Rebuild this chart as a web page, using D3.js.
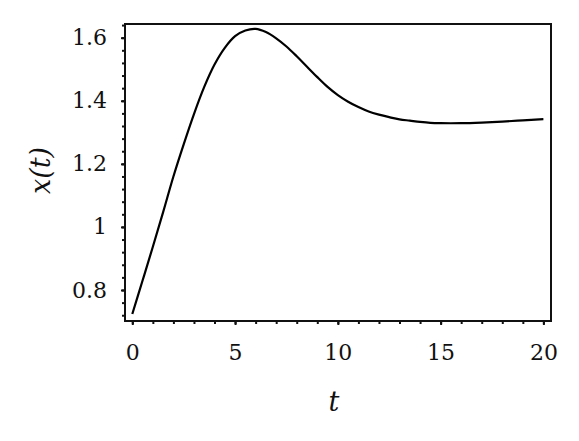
<!DOCTYPE html>
<html>
<head>
<meta charset="utf-8">
<script src="https://cdn.jsdelivr.net/npm/d3@7"></script>
<style>
  body { margin: 0; background: #fff; }
  text { font-family: "DejaVu Serif", "Liberation Serif", serif; fill: #111; }
</style>
</head>
<body>
<div id="chart"></div>
<script>
// data
var tVals = [0, 0.5, 1, 1.5, 2, 2.5, 3, 3.5, 4, 4.5, 5, 5.5, 6, 6.5, 7, 7.5, 8, 8.5, 9, 9.5,
  10, 10.5, 11, 11.5, 12, 12.5, 13, 13.5, 14, 14.5, 15, 16, 17, 18, 19, 20];
var xVals = [0.724, 0.83, 0.937, 1.047, 1.16, 1.262, 1.358, 1.444, 1.515, 1.568, 1.605, 1.623, 1.628, 1.618, 1.598, 1.572, 1.541, 1.508, 1.475, 1.444,
  1.418, 1.397, 1.38, 1.366, 1.356, 1.348, 1.341, 1.337, 1.333, 1.33, 1.329, 1.329, 1.331, 1.334, 1.338, 1.342];
var xTicks = [0, 5, 10, 15, 20];
var yTicks = [0.8, 1, 1.2, 1.4, 1.6];

var W = 579, H = 441;
var m = {t: 24, r: 28, b: 120, l: 125},
    w = W - m.l - m.r,
    h = H - m.t - m.b;

var svg = d3.select("#chart").append("svg")
  .attr("width", W)
  .attr("height", H);

var g = svg.append("g")
  .attr("transform", "translate(" + m.l + "," + m.t + ")");

var x = d3.scaleLinear().domain([-0.355, 20.37]).range([0, w]);
var y = d3.scaleLinear().domain([0.7017, 1.6434]).range([h, 0]);

// minor ticks
var xMinor = d3.range(0, 21, 1);
var yMinor = d3.range(0, 24).map(function(i){ return +(0.72 + i*0.04).toFixed(2); })
  .filter(function(v){ return v <= 1.64; });

g.append("g")
  .attr("transform", "translate(0," + h + ")")
  .call(d3.axisBottom(x).tickValues(xMinor).tickSize(3).tickFormat(""))
  .call(function(s){ s.select(".domain").remove(); })
  .selectAll("line").attr("stroke", "#111").attr("stroke-width", 2);

g.append("g")
  .call(d3.axisLeft(y).tickValues(yMinor).tickSize(3).tickFormat(""))
  .call(function(s){ s.select(".domain").remove(); })
  .selectAll("line").attr("stroke", "#111").attr("stroke-width", 2);

// major ticks
var xAxis = g.append("g")
  .attr("transform", "translate(0," + h + ")")
  .call(d3.axisBottom(x).tickValues(xTicks).tickSize(4).tickPadding(19).tickFormat(d3.format("d")));
xAxis.select(".domain").remove();
xAxis.selectAll("line").attr("stroke", "#111").attr("stroke-width", 2);
xAxis.selectAll("text").attr("font-size", "22px").attr("fill", "#111")
  .attr("font-family", "DejaVu Serif, Liberation Serif, serif");

var yAxis = g.append("g")
  .call(d3.axisLeft(y).tickValues(yTicks).tickSize(4).tickPadding(14).tickFormat(function(d){ return d3.format("")(d); }));
yAxis.select(".domain").remove();
yAxis.selectAll("line").attr("stroke", "#111").attr("stroke-width", 2);
yAxis.selectAll("text").attr("font-size", "22px").attr("fill", "#111")
  .attr("font-family", "DejaVu Serif, Liberation Serif, serif");

// frame
g.append("rect")
  .attr("x", 0).attr("y", 0)
  .attr("width", w).attr("height", h)
  .attr("fill", "none")
  .attr("stroke", "#111")
  .attr("stroke-width", 2);

// curve
var pts = tVals.map(function(t, i){ return {t: t, v: xVals[i]}; });
var line = d3.line()
  .x(function(d){ return x(d.t); })
  .y(function(d){ return y(d.v); })
  .curve(d3.curveCatmullRom.alpha(0.5));

g.append("path")
  .datum(pts)
  .attr("d", line)
  .attr("fill", "none")
  .attr("stroke", "#000")
  .attr("stroke-width", 2.2);

// axis titles
g.append("text")
  .attr("x", w/2 - 4)
  .attr("y", 411 - m.t)
  .attr("text-anchor", "middle")
  .attr("font-size", "27px")
  .attr("font-style", "italic")
  .text("t");

g.append("text")
  .attr("transform", "translate(" + (50 - m.l) + "," + (h/2 - 2) + ") rotate(-90)")
  .attr("text-anchor", "middle")
  .attr("font-size", "27px")
  .attr("font-style", "italic")
  .text("x(t)");
</script>
</body>
</html>
